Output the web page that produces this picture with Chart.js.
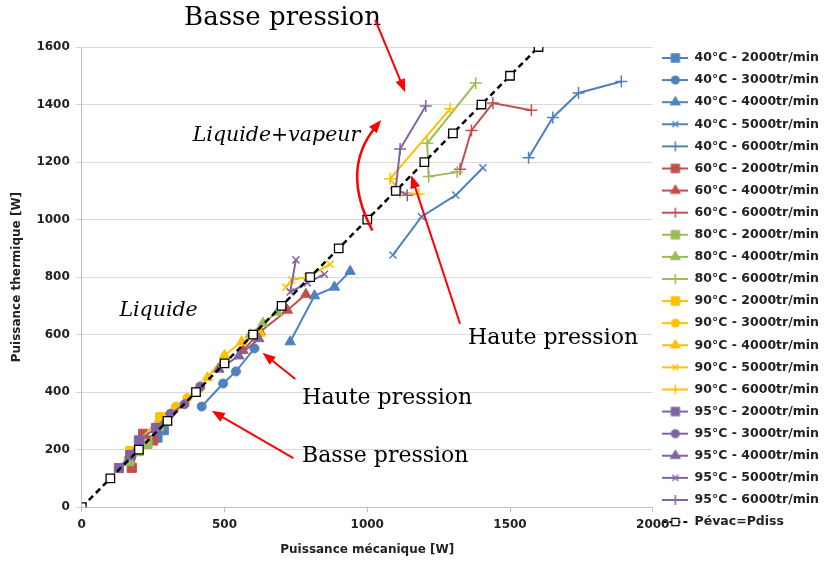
<!DOCTYPE html>
<html>
<head>
<meta charset="utf-8">
<script src="https://cdn.jsdelivr.net/npm/chart.js@4.4.0/dist/chart.umd.min.js"></script>
<style>
  html, body { margin: 0; padding: 0; background: #fff; }
</style>
</head>
<body>
<canvas id="chart" width="831" height="562"></canvas>
<script>
// Axis ticks
const xTickValues = [0, 500, 1000, 1500, 2000];
const yTickValues = [0, 200, 400, 600, 800, 1000, 1200, 1400, 1600];

// Series: [Puissance mécanique, Puissance thermique] in W
const s40_2000 = [[265, 242], [287, 268]];
const s40_3000 = [[420, 350], [495, 430], [540, 472], [605, 552]];
const s40_4000 = [[730, 575], [815, 735], [885, 765], [940, 820]];
const s40_5000 = [[1090, 877], [1190, 1010], [1310, 1085], [1405, 1180]];
const s40_6000 = [[1565, 1215], [1650, 1355], [1740, 1440], [1890, 1480]];
const s60_2000 = [[175, 137], [215, 255], [250, 232]];
const s60_4000 = [[565, 545], [625, 610], [720, 685], [785, 740]];
const s60_6000 = [[1325, 1175], [1365, 1310], [1440, 1405], [1575, 1380]];
const s80_2000 = [[165, 160], [200, 195], [230, 220], [270, 282]];
const s80_4000 = [[590, 600], [635, 640], [685, 678]];
const s80_6000 = [[1315, 1165], [1215, 1150], [1210, 1265], [1380, 1475]];
const s90_2000 = [[170, 195], [275, 312]];
const s90_3000 = [[275, 315], [330, 350], [370, 380], [415, 415]];
const s90_4000 = [[440, 450], [500, 528], [560, 575], [625, 605]];
const s90_5000 = [[715, 765], [735, 790], [790, 800], [870, 845]];
const s90_6000 = [[1180, 1088], [1115, 1095], [1080, 1142], [1290, 1385]];
const s95_2000 = [[130, 136], [170, 181], [200, 232], [260, 275]];
const s95_3000 = [[260, 276], [310, 325], [360, 358], [415, 420]];
const s95_4000 = [[480, 480], [550, 526], [620, 586]];
const s95_5000 = [[750, 860], [730, 748], [790, 780], [850, 810]];
const s95_6000 = [[1140, 1085], [1100, 1108], [1115, 1245], [1205, 1395]];
const pEvacPdiss = [[0, 0], [100, 100], [200, 200], [300, 300], [400, 400], [500, 500],
  [600, 600], [700, 700], [800, 800], [900, 900], [1000, 1000], [1100, 1100],
  [1200, 1200], [1300, 1300], [1400, 1400], [1500, 1500], [1600, 1600]];

const seriesList = [
  ['40°C - 2000tr/min', 40, 2000, s40_2000],
  ['40°C - 3000tr/min', 40, 3000, s40_3000],
  ['40°C - 4000tr/min', 40, 4000, s40_4000],
  ['40°C - 5000tr/min', 40, 5000, s40_5000],
  ['40°C - 6000tr/min', 40, 6000, s40_6000],
  ['60°C - 2000tr/min', 60, 2000, s60_2000],
  ['60°C - 4000tr/min', 60, 4000, s60_4000],
  ['60°C - 6000tr/min', 60, 6000, s60_6000],
  ['80°C - 2000tr/min', 80, 2000, s80_2000],
  ['80°C - 4000tr/min', 80, 4000, s80_4000],
  ['80°C - 6000tr/min', 80, 6000, s80_6000],
  ['90°C - 2000tr/min', 90, 2000, s90_2000],
  ['90°C - 3000tr/min', 90, 3000, s90_3000],
  ['90°C - 4000tr/min', 90, 4000, s90_4000],
  ['90°C - 5000tr/min', 90, 5000, s90_5000],
  ['90°C - 6000tr/min', 90, 6000, s90_6000],
  ['95°C - 2000tr/min', 95, 2000, s95_2000],
  ['95°C - 3000tr/min', 95, 3000, s95_3000],
  ['95°C - 4000tr/min', 95, 4000, s95_4000],
  ['95°C - 5000tr/min', 95, 5000, s95_5000],
  ['95°C - 6000tr/min', 95, 6000, s95_6000]
];

const tempColors = { 40: '#4F81BD', 60: '#C0504D', 80: '#9BBB59', 90: '#FFC000', 95: '#8064A2' };
const speedMarkers = {
  2000: { style: 'rect', radius: 6.5 },
  3000: { style: 'circle', radius: 4.5 },
  4000: { style: 'triangle', radius: 6 },
  5000: { style: 'crossRot', radius: 5 },
  6000: { style: 'cross', radius: 6 }
};

// Red annotations, placed in data units
const notes = [
  { text: 'Basse pression', x: 703, y: 1701, italic: false, size: 26 },
  { text: 'Liquide+vapeur', x: 682, y: 1290, italic: true, size: 20.5 },
  { text: 'Liquide', x: 269, y: 683, italic: true, size: 20.5 },
  { text: 'Haute pression', x: 1651, y: 586, italic: false, size: 22 },
  { text: 'Haute pression', x: 1070, y: 380, italic: false, size: 22 },
  { text: 'Basse pression', x: 1063, y: 178, italic: false, size: 22 }
];
const arrows = [
  { from: [1028, 1694], to: [1133, 1443] },
  { from: [1325, 638], to: [1154, 1154] },
  { from: [748, 446], to: [633, 537] },
  { from: [741, 171], to: [455, 335] }
];
const curvedArrow = { from: [1018, 962], ctrl: [905, 1175], to: [1049, 1346] };

// Legend icon: short line with the series marker in the middle
function makeIcon(color, marker, dashed) {
  const c = document.createElement('canvas');
  c.width = 26; c.height = 14;
  const ctx = c.getContext('2d');
  ctx.strokeStyle = color;
  ctx.lineWidth = 2;
  if (dashed) ctx.setLineDash([4, 3]);
  ctx.beginPath(); ctx.moveTo(0, 7); ctx.lineTo(26, 7); ctx.stroke();
  ctx.setLineDash([]);
  ctx.fillStyle = dashed ? '#fff' : color;
  ctx.lineWidth = dashed ? 1.2 : 1.5;
  Chart.helpers.drawPoint(ctx, { pointStyle: marker.style, radius: marker.radius * 0.85, borderWidth: 1, rotation: 0 }, 13, 7);
  return c;
}

const datasets = seriesList.map(([label, temp, speed, pts], i) => {
  const color = tempColors[temp];
  const m = speedMarkers[speed];
  return {
    label: label,
    data: pts.map(p => ({ x: p[0], y: p[1] })),
    showLine: true,
    borderColor: color,
    borderWidth: 2,
    backgroundColor: color,
    pointStyle: m.style,
    pointRadius: m.radius,
    pointBackgroundColor: color,
    pointBorderColor: color,
    pointBorderWidth: (m.style === 'cross' || m.style === 'crossRot') ? 1.5 : 1,
    order: 100 - i,
    icon: makeIcon(color, m, false)
  };
});

datasets.push({
  label: 'Pévac=Pdiss',
  data: pEvacPdiss.map(p => ({ x: p[0], y: p[1] })),
  showLine: true,
  borderColor: '#000',
  borderWidth: 2.5,
  borderDash: [6, 4],
  pointStyle: 'rect',
  pointRadius: 6,
  pointBackgroundColor: '#fff',
  pointBorderColor: '#000',
  pointBorderWidth: 1.3,
  order: 0,
  icon: makeIcon('#000', { style: 'rect', radius: 6 }, true)
});

const annotationPlugin = {
  id: 'notes',
  afterLayout(chart) {
    // lift the legend column a bit, as in the original
    const lg = chart.legend;
    if (lg) { lg.top -= 12; lg.bottom -= 12; }
  },
  afterDraw(chart) {
    const ctx = chart.ctx;
    const xs = chart.scales.x, ys = chart.scales.y;
    const px = v => xs.getPixelForValue(v);
    const py = v => ys.getPixelForValue(v);
    ctx.save();
    ctx.fillStyle = '#000';
    ctx.textAlign = 'center';
    ctx.textBaseline = 'middle';
    notes.forEach(n => {
      ctx.font = (n.italic ? 'italic ' : '') + n.size + 'px "DejaVu Serif"';
      ctx.fillText(n.text, px(n.x), py(n.y));
    });

    const red = '#FF0000';
    ctx.strokeStyle = red;
    ctx.fillStyle = red;
    ctx.lineWidth = 2;
    const head = (tx, ty, ang) => {
      const len = 13, half = 5;
      ctx.beginPath();
      ctx.moveTo(tx, ty);
      ctx.lineTo(tx - len * Math.cos(ang) + half * Math.sin(ang), ty - len * Math.sin(ang) - half * Math.cos(ang));
      ctx.lineTo(tx - len * Math.cos(ang) - half * Math.sin(ang), ty - len * Math.sin(ang) + half * Math.cos(ang));
      ctx.closePath();
      ctx.fill();
    };
    arrows.forEach(a => {
      const x1 = px(a.from[0]), y1 = py(a.from[1]);
      const x2 = px(a.to[0]), y2 = py(a.to[1]);
      const ang = Math.atan2(y2 - y1, x2 - x1);
      ctx.beginPath();
      ctx.moveTo(x1, y1);
      ctx.lineTo(x2 - 8 * Math.cos(ang), y2 - 8 * Math.sin(ang));
      ctx.stroke();
      head(x2, y2, ang);
    });
    const c = curvedArrow;
    const cx1 = px(c.from[0]), cy1 = py(c.from[1]);
    const ccx = px(c.ctrl[0]), ccy = py(c.ctrl[1]);
    const cx2 = px(c.to[0]), cy2 = py(c.to[1]);
    const cang = Math.atan2(cy2 - ccy, cx2 - ccx);
    ctx.lineWidth = 2.5;
    ctx.beginPath();
    ctx.moveTo(cx1, cy1);
    ctx.quadraticCurveTo(ccx, ccy, cx2 - 8 * Math.cos(cang), cy2 - 8 * Math.sin(cang));
    ctx.stroke();
    head(cx2, cy2, cang);
    ctx.restore();
  }
};

Chart.defaults.font.family = '"DejaVu Sans", sans-serif';
Chart.defaults.color = '#222';

new Chart(document.getElementById('chart'), {
  type: 'scatter',
  data: { datasets: datasets },
  options: {
    responsive: false,
    animation: false,
    layout: { padding: { top: 47, left: 10, right: 2, bottom: 5 } },
    scales: {
      x: {
        type: 'linear',
        min: xTickValues[0],
        max: xTickValues[xTickValues.length - 1],
        afterBuildTicks: axis => { axis.ticks = xTickValues.map(v => ({ value: v })); },
        grid: { drawOnChartArea: false, drawTicks: true, tickLength: 5, color: '#BFBFBF' },
        border: { color: '#BFBFBF' },
        ticks: { font: { size: 12, weight: 'bold' }, padding: 5, maxRotation: 0, callback: v => String(v) },
        title: { display: true, text: 'Puissance mécanique [W]', font: { size: 12, weight: 'bold' }, padding: { top: 6, bottom: 0 } }
      },
      y: {
        type: 'linear',
        min: yTickValues[0],
        max: yTickValues[yTickValues.length - 1],
        afterBuildTicks: axis => { axis.ticks = yTickValues.map(v => ({ value: v })); },
        grid: { color: '#D9D9D9', tickLength: 6, lineWidth: 1 },
        border: { color: '#BFBFBF' },
        ticks: { font: { size: 12, weight: 'bold' }, padding: 6, callback: v => String(v) },
        title: { display: true, text: 'Puissance thermique [W]', font: { size: 12, weight: 'bold' }, padding: { top: 0, bottom: 6 } }
      }
    },
    plugins: {
      tooltip: { enabled: false },
      legend: {
        position: 'right',
        align: 'center',
        labels: {
          usePointStyle: true,
          pointStyleWidth: 26,
          boxHeight: 12.5,
          padding: 9.6,
          font: { size: 12.5, weight: 'bold' },
          color: '#222',
          generateLabels: chart => chart.data.datasets.map((ds, i) => ({
            text: ds.label,
            pointStyle: ds.icon,
            fillStyle: ds.borderColor,
            strokeStyle: ds.borderColor,
            lineWidth: 0,
            hidden: false,
            datasetIndex: i,
            fontColor: '#222'
          }))
        }
      }
    }
  },
  plugins: [annotationPlugin]
});
</script>
</body>
</html>
